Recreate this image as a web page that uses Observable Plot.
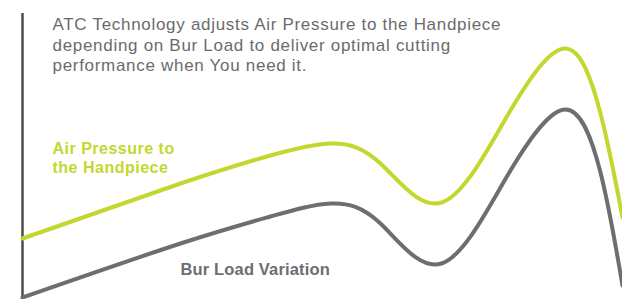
<!DOCTYPE html>
<html>
<head>
<meta charset="utf-8">
<script src="https://cdn.jsdelivr.net/npm/d3@7"></script>
<script src="https://cdn.jsdelivr.net/npm/@observablehq/plot@0.6"></script>
<style>
  html, body { margin: 0; padding: 0; background: #fff; }
  #chart svg { display: block; }
</style>
</head>
<body>
<div id="chart"></div>
<script>
// Position along the bur cycle (arbitrary units)
const positions = [0, 158, 248, 308, 358, 419, 485, 543, 578, 600];
// Air pressure to the handpiece (arbitrary level units)
const airPressure = [59, 114, 142, 154, 134, 95, 182, 249, 184, 80];
// Bur load variation (arbitrary level units)
const burLoad = [0, 54, 81, 94, 74, 34, 122, 188, 125, 12];

const titleText = "ATC Technology adjusts Air Pressure to the Handpiece\ndepending on Bur Load to deliver optimal cutting\nperformance when You need it.";
const airLabel = "Air Pressure to\nthe Handpiece";
const burLabel = "Bur Load Variation";

const airData = positions.map((x, i) => ({x, y: airPressure[i]}));
const burData = positions.map((x, i) => ({x, y: burLoad[i]}));

const chart = Plot.plot({
  width: 622,
  height: 299,
  marginLeft: 22,
  marginRight: 0,
  marginTop: 13,
  marginBottom: 2,
  x: {domain: [0, 600], axis: null},
  y: {domain: [0, 284], axis: null},
  style: {fontFamily: "'Liberation Sans', Arial, sans-serif", background: "#fff"},
  marks: [
    Plot.ruleX([0], {stroke: "#4d4d4f", strokeWidth: 2.5, insetBottom: -2}),
    Plot.line(airData, {x: "x", y: "y", curve: "natural", stroke: "#c3d72e", strokeWidth: 4}),
    Plot.line(burData, {x: "x", y: "y", curve: "natural", stroke: "#6d6e71", strokeWidth: 4}),
    Plot.text([titleText], {x: 30, y: 282, text: d => d, textAnchor: "start", lineAnchor: "top",
      fontSize: 17, lineHeight: 1.21, fill: "#6b6b6d"}),
    Plot.text([airLabel], {x: 30, y: 157, text: d => d, textAnchor: "start", lineAnchor: "top",
      fontSize: 16, fontWeight: "bold", lineHeight: 1.19, fill: "#c3d72e"}),
    Plot.text([burLabel], {x: 158, y: 34, text: d => d, textAnchor: "start", lineAnchor: "top",
      fontSize: 16.5, fontWeight: "bold", fill: "#6d6e71"})
  ]
});
// letter spacing to match the reference typeface width
const spacings = [0.7, 0.5, 0.15];
d3.select(chart).selectAll("g[aria-label='text']").each(function(_, i) {
  d3.select(this).attr("letter-spacing", spacings[i] + "px");
});
document.getElementById("chart").appendChild(chart);
</script>
</body>
</html>
